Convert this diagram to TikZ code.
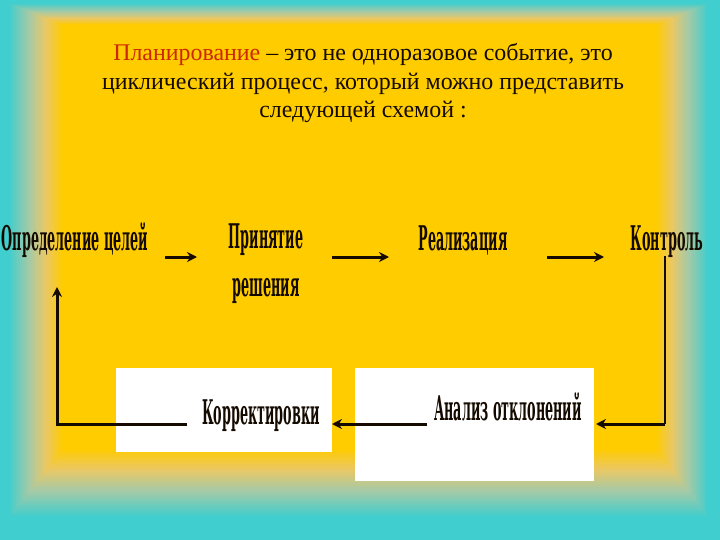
\documentclass[tikz,border=0pt]{standalone}
\usepackage{fontspec}
\setmainfont{Liberation Serif}
\newfontfamily\labfont[FakeStretch=0.375]{DejaVu Serif}
\usetikzlibrary{arrows.meta}
\definecolor{bgyellow}{RGB}{255,204,0}
\definecolor{bgcyan}{RGB}{64,206,206}
\definecolor{titlered}{RGB}{204,40,0}
\definecolor{ink}{RGB}{20,10,0}
\begin{document}
\begin{tikzpicture}[x=1pt,y=-1pt,
  lab/.style={font=\labfont\bfseries\fontsize{34}{34}\selectfont, text=ink, inner sep=0pt, anchor=base},
  ttl/.style={font=\fontsize{23.9}{29}\selectfont, text=ink, inner sep=0pt, anchor=base},
  conn/.style={draw=ink, line width=3pt, -{Stealth[length=10pt,width=10pt]}},
  thinline/.style={draw=ink, line width=1.2pt},
  whitebox/.style={fill=white, draw=none}
]
\useasboundingbox (0,0) rectangle (720,540);
\fill[bgcyan] (0,0) rectangle (720,540);
\foreach \k in {0,...,40}{
  \pgfmathsetmacro\t{\k/40}
  \pgfmathtruncatemacro\cr{\t<0.4 ? 64+106*\t/0.4 : (\t<0.7 ? 170+65*(\t-0.4)/0.3 : 235+20*(\t-0.7)/0.3)}
  \pgfmathtruncatemacro\cg{\t<0.4 ? 206-4*\t/0.4 : (\t<0.7 ? 202-2*(\t-0.4)/0.3 : 200+4*(\t-0.7)/0.3)}
  \pgfmathtruncatemacro\cb{\t<0.4 ? 206-41*\t/0.4 : (\t<0.7 ? 165-65*(\t-0.4)/0.3 : 100-100*(\t-0.7)/0.3)}
  \definecolor{stepcol}{RGB}{\cr,\cg,\cb}
  \fill[stepcol] ({8+54*\t},{3+22*\t}) rectangle ({709-52*\t},{518-68*\t});
}
% title
\node[ttl] (title1) at (363,61) {\textcolor{titlered}{Планирование} – это не одноразовое событие, это};
\node[ttl] (title2) at (363,90) {циклический процесс, который можно представить};
\node[ttl] (title3) at (363,118) {следующей схемой :};
% white boxes
\fill[whitebox] (116,368) rectangle (332,452);
\fill[whitebox] (355,368) rectangle (594,481);
% labels
\node[lab] (def) at (75,251) {Определение целей};
\node[lab] (prin) at (266,248) {Принятие};
\node[lab] (resh) at (266,296) {решения};
\node[lab] (real) at (463,251) {Реализация};
\node[lab] (kontr) at (667,251) {Контроль};
\node[lab] (korr) at (261,424) {Корректировки};
\node[lab] (anal) at (508,420) {Анализ отклонений};
% connector points
\coordinate (a1s) at (165,257); \coordinate (a1e) at (197,257);
\coordinate (a2s) at (332,257); \coordinate (a2e) at (389,257);
\coordinate (a3s) at (547,257); \coordinate (a3e) at (604,257);
\coordinate (r1) at (665,256); \coordinate (r2) at (665,424); \coordinate (r3) at (596,424);
\coordinate (m1) at (427,424); \coordinate (m2) at (332,424);
\coordinate (l1) at (187,424); \coordinate (l2) at (57,424); \coordinate (l3) at (57,287);
\draw[conn] (a1s) -- (a1e);
\draw[conn] (a2s) -- (a2e);
\draw[conn] (a3s) -- (a3e);
\draw[thinline] (r1) -- (r2);
\draw[conn] (r2) -- (r3);
\draw[conn] (m1) -- (m2);
\draw[conn] (l1) -- (l2) -- (l3);
\end{tikzpicture}
\end{document}
